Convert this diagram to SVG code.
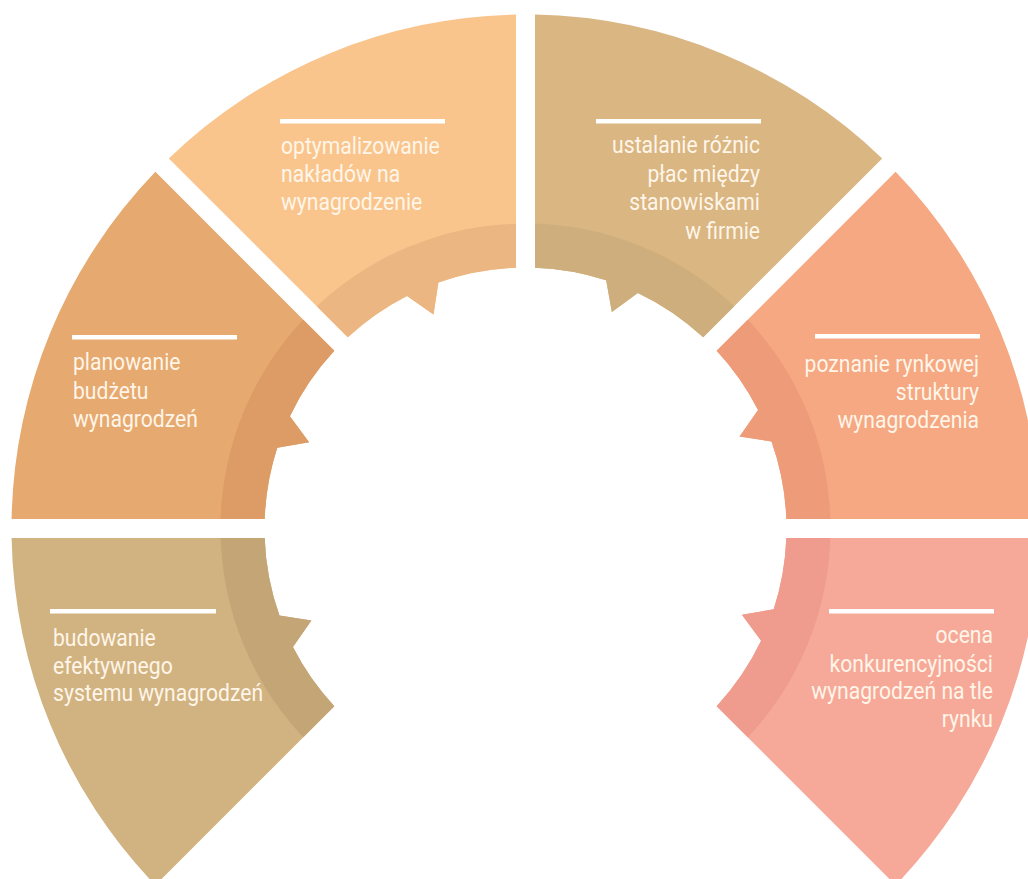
<svg xmlns="http://www.w3.org/2000/svg" xmlns:xlink="http://www.w3.org/1999/xlink" width="1028" height="879" viewBox="0 0 1028 879">
<style>
.lbl{font-family:Roboto,"Liberation Sans",sans-serif;font-weight:400;font-size:24px;fill:#FFF5E8}
.r{text-anchor:end}
.bar{fill:#FFFFFF}
</style>
<defs>
<path id="seg" d="M -9.5,-513.91 A 514 514 0 0 0 -356.67,-370.11 L -177.71,-191.15 A 261 261 0 0 1 -118.49,-232.55 L -91.98,-214.08 L -87.12,-246.03 A 261 261 0 0 1 -9.5,-260.83 Z"/>
<clipPath id="band"><circle cx="0" cy="0" r="305"/></clipPath>
</defs>
<rect width="1028" height="879" fill="#FFFFFF"/>

<g id="node-optymalizowanie">
<g transform="translate(525.5 528.5)">
<use href="#seg" xlink:href="#seg" fill="#F9C58D"/>
<use href="#seg" xlink:href="#seg" fill="#ECB682" clip-path="url(#band)"/>
</g>
<rect class="bar" x="280" y="119" width="165" height="4.5"/>
<text class="lbl" transform="translate(281 0) scale(0.88 1)"><tspan x="0" y="154">optymalizowanie</tspan><tspan x="0" y="182">nakładów na</tspan><tspan x="0" y="210">wynagrodzenie</tspan></text>
</g>

<g id="node-ustalanie">
<g transform="translate(525.5 528.5) rotate(45)">
<use href="#seg" xlink:href="#seg" fill="#D9B682"/>
<use href="#seg" xlink:href="#seg" fill="#CEAE7C" clip-path="url(#band)"/>
</g>
<rect class="bar" x="596" y="119" width="165" height="4.5"/>
<text class="lbl r" transform="translate(760 0) scale(0.88 1)"><tspan x="0" y="153.5">ustalanie różnic</tspan><tspan x="0" y="181.8">płac między</tspan><tspan x="0" y="210.2">stanowiskami</tspan><tspan x="0" y="238.6">w firmie</tspan></text>
</g>

<g id="node-poznanie">
<g transform="translate(525.5 528.5) rotate(90)">
<use href="#seg" xlink:href="#seg" fill="#F5A882"/>
<use href="#seg" xlink:href="#seg" fill="#EE9B79" clip-path="url(#band)"/>
</g>
<rect class="bar" x="815" y="334" width="165" height="4.5"/>
<text class="lbl r" transform="translate(979 0) scale(0.88 1)"><tspan x="0" y="371.7">poznanie rynkowej</tspan><tspan x="0" y="400">struktury</tspan><tspan x="0" y="428.3">wynagrodzenia</tspan></text>
</g>

<g id="node-ocena">
<g transform="translate(525.5 528.5) rotate(135)">
<use href="#seg" xlink:href="#seg" fill="#F6A999"/>
<use href="#seg" xlink:href="#seg" fill="#EF9B8D" clip-path="url(#band)"/>
</g>
<rect class="bar" x="829" y="609" width="165" height="4.5"/>
<text class="lbl r" transform="translate(993 0) scale(0.88 1)"><tspan x="0" y="643.3">ocena</tspan><tspan x="0" y="671.7">konkurencyjności</tspan><tspan x="0" y="699.3">wynagrodzeń na tle</tspan><tspan x="0" y="727.3">rynku</tspan></text>
</g>

<g id="node-planowanie">
<g transform="translate(525.5 528.5) rotate(-45)">
<use href="#seg" xlink:href="#seg" fill="#E6A96F"/>
<use href="#seg" xlink:href="#seg" fill="#DD9B65" clip-path="url(#band)"/>
</g>
<rect class="bar" x="72" y="335" width="165" height="4.5"/>
<text class="lbl" transform="translate(73 0) scale(0.88 1)"><tspan x="0" y="370">planowanie</tspan><tspan x="0" y="398.7">budżetu</tspan><tspan x="0" y="427.3">wynagrodzeń</tspan></text>
</g>

<g id="node-budowanie">
<g transform="translate(525.5 528.5) rotate(-90)">
<use href="#seg" xlink:href="#seg" fill="#D1B381"/>
<use href="#seg" xlink:href="#seg" fill="#C4A576" clip-path="url(#band)"/>
</g>
<rect class="bar" x="50" y="609" width="166" height="4.5"/>
<text class="lbl" transform="translate(53 0) scale(0.88 1)"><tspan x="0" y="646.5">budowanie</tspan><tspan x="0" y="674">efektywnego</tspan><tspan x="0" y="701.3">systemu wynagrodzeń</tspan></text>
</g>
</svg>
